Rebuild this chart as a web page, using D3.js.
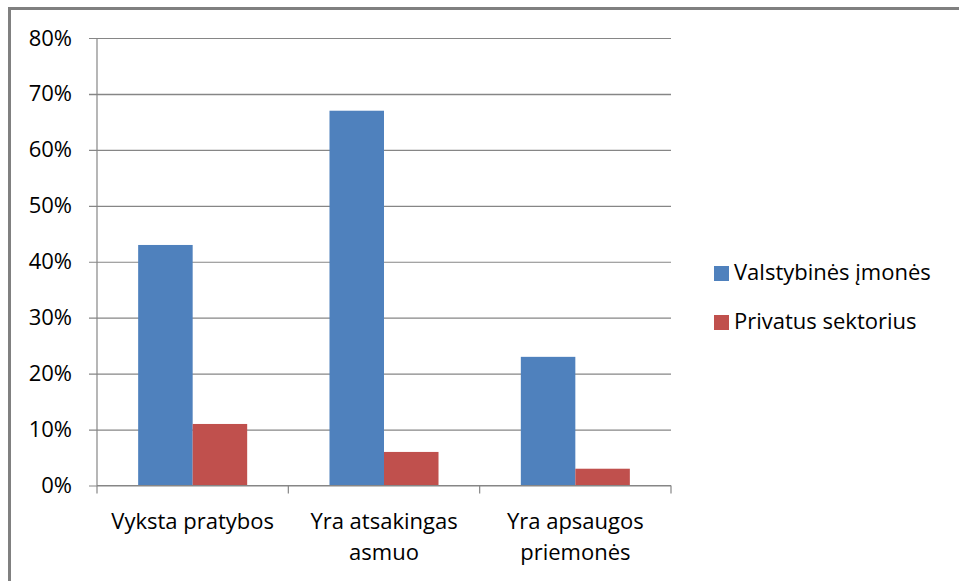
<!DOCTYPE html>
<html>
<head>
<meta charset="utf-8">
<script src="https://cdn.jsdelivr.net/npm/d3@7"></script>
<style>
  body { margin: 0; background: #fff; }
  svg text { font-family: "Open Sans", "Liberation Sans", sans-serif; fill: #000; }
</style>
</head>
<body>
<svg id="chart" width="959" height="581"></svg>
<script>
  // data
  var categories = [['Vyksta pratybos'], ['Yra atsakingas', 'asmuo'], ['Yra apsaugos', 'priemonės']]
  var seriesNames = ['Valstybinės įmonės', 'Privatus sektorius']
  var stateValues = [0.43, 0.67, 0.23]
  var privateValues = [0.11, 0.06, 0.03]
  var yTicks = [0, 0.1, 0.2, 0.3, 0.4, 0.5, 0.6, 0.7, 0.8]

  // constants
  var COLORS = ['#4F81BD', '#C0504D']
  var GRID = '#868686'
  var PLOT = { left: 97, right: 671, top: 38, bottom: 485.5 }
  var FONT = 22

  var svg = d3.select('#chart')

  // outer frame
  svg.append('rect')
    .attr('x', 9.5).attr('y', 8.5)
    .attr('width', 960).attr('height', 600)
    .attr('fill', 'none')
    .attr('stroke', '#808080')
    .attr('stroke-width', 3)

  var x0 = d3.scaleBand()
    .domain(d3.range(categories.length))
    .range([PLOT.left, PLOT.right])
  var x1 = d3.scaleBand()
    .domain([0, 1])
    .range([0, x0.bandwidth()])
    .paddingOuter(0.755)
  var y = d3.scaleLinear().domain([0, 0.8]).range([PLOT.bottom, PLOT.top])

  // gridlines + y axis
  var yAxis = d3.axisLeft(y)
    .tickValues(yTicks)
    .tickFormat(d3.format('.0%'))
    .tickSize(-(PLOT.right - PLOT.left))
  var gy = svg.append('g')
    .attr('transform', 'translate(' + PLOT.left + ',0)')
    .call(yAxis)
  gy.select('.domain').remove()
  gy.selectAll('.tick line')
    .attr('stroke', GRID)
    .attr('x1', -8)
    .attr('stroke-width', function (d) { return d === 0.7 ? 1.6 : 1.2 })
  gy.selectAll('.tick text')
    .attr('font-size', FONT)
    .attr('fill', '#000')
    .attr('x', -25)

  // bars
  var data = [stateValues, privateValues]
  data.forEach(function (values, s) {
    svg.append('g').selectAll('rect')
      .data(values)
      .join('rect')
      .attr('x', function (d, i) { return x0(i) + x1(s) })
      .attr('width', x1.bandwidth())
      .attr('y', function (d) { return y(d) })
      .attr('height', function (d) { return PLOT.bottom - y(d) })
      .attr('fill', COLORS[s])
  })

  // vertical axis line
  svg.append('line')
    .attr('x1', PLOT.left).attr('x2', PLOT.left)
    .attr('y1', PLOT.top).attr('y2', PLOT.bottom)
    .attr('stroke', GRID).attr('stroke-width', 1.2)

  // x axis
  var xAxis = d3.axisBottom(x0).tickSize(0).tickFormat('')
  var gx = svg.append('g')
    .attr('transform', 'translate(0,' + PLOT.bottom + ')')
    .call(xAxis)
  gx.select('.domain').remove()
  gx.append('line')
    .attr('x1', PLOT.left).attr('x2', PLOT.right)
    .attr('stroke', GRID).attr('stroke-width', 1.2)
  // category separator ticks
  var sep = d3.range(categories.length + 1).map(function (i) {
    return i < categories.length ? x0(i) : PLOT.right
  })
  gx.selectAll('.sep')
    .data(sep)
    .join('line')
    .attr('class', 'sep')
    .attr('x1', function (d) { return d }).attr('x2', function (d) { return d })
    .attr('y1', 0).attr('y2', 8)
    .attr('stroke', GRID).attr('stroke-width', 1.2)

  // category labels
  var labels = svg.append('g').selectAll('text')
    .data(categories)
    .join('text')
    .attr('text-anchor', 'middle')
    .attr('font-size', FONT)
    .attr('transform', function (d, i) {
      return 'translate(' + (x0(i) + x0.bandwidth() / 2) + ',' + 529 + ')'
    })
  labels.selectAll('tspan')
    .data(function (d) { return d })
    .join('tspan')
    .attr('x', 0)
    .attr('dy', function (d, i) { return i === 0 ? 0 : 31 })
    .text(function (d) { return d })

  // legend
  var legend = svg.append('g').selectAll('g')
    .data(seriesNames)
    .join('g')
    .attr('transform', function (d, i) { return 'translate(714,' + (266 + i * 49) + ')' })
  legend.append('rect')
    .attr('width', 15).attr('height', 15)
    .attr('fill', function (d, i) { return COLORS[i] })
  legend.append('text')
    .attr('x', 20).attr('y', 14)
    .attr('font-size', FONT)
    .text(function (d) { return d })
</script>
</body>
</html>
